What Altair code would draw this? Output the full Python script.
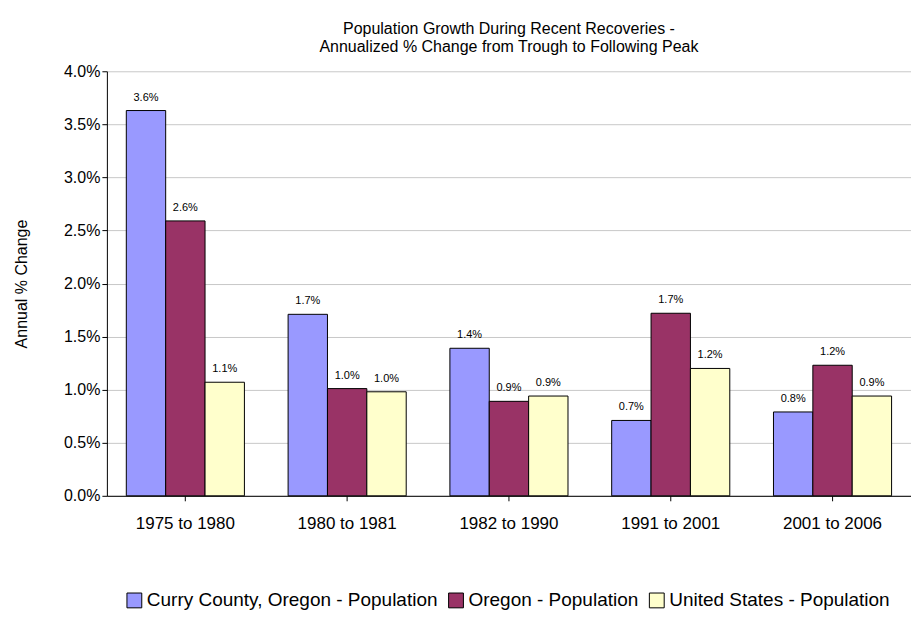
import altair as alt
import pandas as pd

periods = ["1975 to 1980", "1980 to 1981", "1982 to 1990", "1991 to 2001", "2001 to 2006"]
series = ["Curry County, Oregon - Population", "Oregon - Population", "United States - Population"]
curry = [0.0363, 0.0171, 0.0139, 0.0071, 0.0079]
oregon = [0.0259, 0.0101, 0.0089, 0.0172, 0.0123]
us = [0.0107, 0.0098, 0.0094, 0.0120, 0.0094]
colors = ["#9999FF", "#993366", "#FFFFCC"]

rows = []
for vals, s in zip([curry, oregon, us], series):
    for p, v in zip(periods, vals):
        rows.append({"period": p, "series": s, "value": v})
df = pd.DataFrame(rows)

font = "Liberation Sans"
x = alt.X("period:N", sort=periods, title=None,
          axis=alt.Axis(labelAngle=0, labelFontSize=17, labelColor="black", labelPadding=15,
                        domainColor="black", tickColor="black", tickSize=5, labelFont=font),
          scale=alt.Scale(paddingInner=0.27, paddingOuter=0.12))
xo = alt.XOffset("series:N", sort=series)
y = alt.Y("value:Q", title="Annual % Change",
          scale=alt.Scale(domain=[0, 0.04]),
          axis=alt.Axis(format=".1%", values=[i * 0.005 for i in range(9)], labelFontSize=16,
                        labelColor="black", titleFontSize=16, titleFontWeight="normal",
                        titleColor="black", gridColor="#c8c8c8", domainColor="black",
                        tickColor="black", labelFont=font, titleFont=font, titlePadding=34))

bars = alt.Chart(df).mark_bar(stroke="black", strokeWidth=1).encode(
    x=x, xOffset=xo, y=y,
    color=alt.Color("series:N", sort=series, scale=alt.Scale(domain=series, range=colors),
                    legend=alt.Legend(title=None, orient="none", legendX=18, legendY=520,
                                      direction="horizontal", labelFontSize=19, labelColor="black",
                                      labelFont=font, symbolType="square", symbolSize=220,
                                      symbolStrokeColor="black", symbolStrokeWidth=1,
                                      columnPadding=8, labelOffset=3, labelLimit=400)),
)
labels = alt.Chart(df).mark_text(dy=-13, fontSize=11, font=font, color="black").encode(
    x=x, xOffset=xo, y=y, text=alt.Text("value:Q", format=".1%"),
)

chart = (bars + labels).properties(
    width=805, height=425,
    padding={"left": 99, "top": 63, "right": 0, "bottom": 128},
    autosize=alt.AutoSizeParams(type="none"),
    title=alt.Title(["Population Growth During Recent Recoveries -",
                     "Annualized % Change from Trough to Following Peak"],
                    fontSize=16, fontWeight="normal", font=font, color="black", offset=8, anchor="middle"),
).configure_view(stroke=None)

chart.save("out.html", embed_options={"renderer": "svg", "actions": False})
